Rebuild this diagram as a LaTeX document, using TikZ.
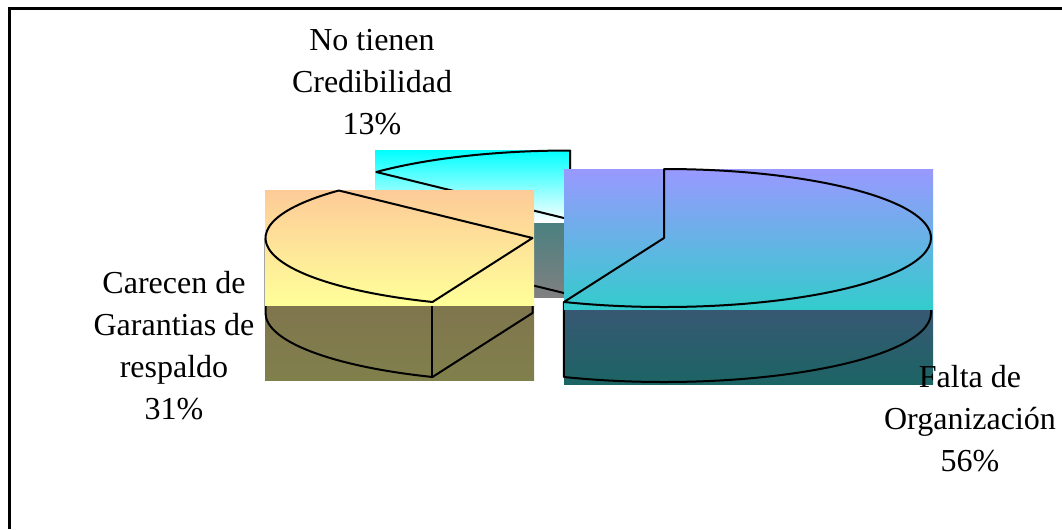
\documentclass[tikz,border=0pt]{standalone}
\usepackage{fontspec}
\setmainfont{Liberation Serif}
\usepackage{tikz}
\usetikzlibrary{calc}

\definecolor{credTop}{RGB}{0,255,255}
\definecolor{credSideA}{RGB}{74,128,128}
\definecolor{credSideB}{RGB}{128,128,128}
\definecolor{garTop}{RGB}{253,203,152}
\definecolor{garTopB}{RGB}{255,255,153}
\definecolor{garSideA}{RGB}{128,117,78}
\definecolor{garSideB}{RGB}{128,128,76}
\definecolor{orgTop}{RGB}{153,153,255}
\definecolor{orgTopB}{RGB}{51,204,204}
\definecolor{orgSideA}{RGB}{56,88,115}
\definecolor{orgSideB}{RGB}{28,100,100}

\begin{document}
\begin{tikzpicture}[x=0.75pt, y=0.75pt,
		lbl/.style={align=center, inner sep=0pt, font=\fontsize{24}{31.5}\selectfont},
		edge/.style={draw=black, line width=1.5pt, line join=round},
		rim/.style={x radius=267, y radius=69}
	]
		\useasboundingbox (0,0) rectangle (1062,-529);
		\draw[line width=2pt] (9.5,-529) -- (9.5,-8.5) -- (1062,-8.5);
		
		% no tienen credibilidad
		\coordinate (cC) at (570,-219.5);
		\shade[top color=credSideA, bottom color=credSideB] (375,-222) rectangle (571,-297);
		\draw[edge] ($(cC)+(136.5:267 and 69)$) -- ++(0,-75) -- ($(cC)+(0,-75)$) -- (cC);
		\shade[top color=credTop, bottom color=white] (375,-150) rectangle (571,-222);
		\draw[edge] (cC) -- ++(0,69) arc[start angle=90, end angle=136.5, rim] -- cycle;
		
		% carecen de garantias
		\coordinate (cG) at (532.5,-238);
		\shade[top color=garSideA, bottom color=garSideB] (265,-305) rectangle (534,-380);
		\draw[edge] ($(cG)+(180:267 and 69)$) -- ++(0,-75) arc[start angle=180, end angle=248, rim] -- ($(cG)+(0,-75)$) -- (cG);
		\draw[edge] ($(cG)+(248:267 and 69)$) -- ++(0,-75);
		\shade[top color=garTop, bottom color=garTopB] (265,-190) rectangle (534,-305);
		\draw[edge] (cG) -- ($(cG)+(136.5:267 and 69)$) arc[start angle=136.5, end angle=248, rim] -- cycle;
		
		% falta de organizacion
		\coordinate (cO) at (664,-238);
		\shade[top color=orgSideA, bottom color=orgSideB] (564,-309) rectangle (933,-384);
		\draw[edge] ($(cO)+(0:267 and 69)$) -- ++(0,-75) arc[start angle=0, end angle=-112, rim] -- ++(0,75);
		\shade[top color=orgTop, bottom color=orgTopB] (564,-169) rectangle (933,-309);
		\draw[edge] (cO) -- ++(0,69) arc[start angle=90, end angle=-112, rim] -- cycle;
		
		\node[lbl] (lblCred) at (372,-82) {No tienen\\Credibilidad\\13\%};
		\node[lbl] (lblGar) at (174,-346) {Carecen de\\Garantias de\\respaldo\\31\%};
		\node[lbl] (lblOrg) at (970,-419) {Falta de\\Organización\\56\%};
	\end{tikzpicture}
\end{document}
